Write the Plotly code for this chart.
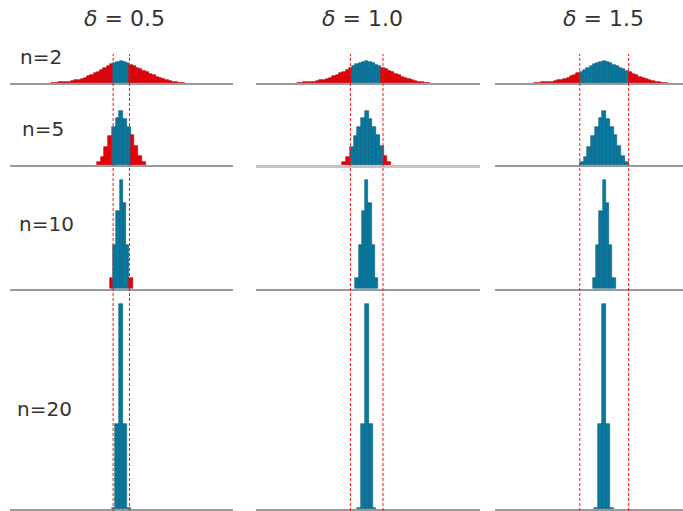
import plotly.graph_objects as go

# ---------------- data ----------------
deltas = [0.5, 1.0, 1.5]
delta_text = ["0.5", "1.0", "1.5"]
sample_sizes = [2, 5, 10, 20]

# histogram of the sample mean (deviation from the true mean), 10000 trials each
centers_n2 = [-4.2, -4.0, -3.8, -3.6, -3.4, -3.2, -3.0, -2.8, -2.6, -2.4,
              -2.2, -2.0, -1.8, -1.6, -1.4, -1.2, -1.0, -0.8, -0.6, -0.4,
              -0.2, 0.0, 0.2, 0.4, 0.6, 0.8, 1.0, 1.2, 1.4, 1.6,
              1.8, 2.0, 2.2, 2.4, 2.6, 2.8, 3.0, 3.2, 3.4, 3.6, 3.8]
counts_n2 = [6, 11, 17, 23, 29, 40, 54, 71, 91, 114,
             143, 200, 239, 279, 322, 371, 428, 479, 527, 570,
             604, 618, 599, 559, 513, 473, 436, 399, 351, 308,
             257, 214, 177, 140, 108, 86, 63, 40, 26, 14, 6]

centers_n5 = [-1.38, -1.15, -0.92, -0.69, -0.46, -0.23, 0.0,
              0.23, 0.46, 0.69, 0.92, 1.15, 1.38]
counts_n5 = [88, 234, 526, 848, 1111, 1374, 1579, 1345, 1111, 877, 556, 263, 88]

centers_n10 = [-0.6, -0.4, -0.2, 0.0, 0.2, 0.4, 0.6]
counts_n10 = [266, 1144, 2048, 2872, 2261, 1144, 266]

centers_n20 = [-0.48, -0.24, 0.0, 0.24, 0.48]
counts_n20 = [27, 2255, 5438, 2255, 27]

bin_widths = [0.2, 0.23, 0.2, 0.24]

hists = [(centers_n2, counts_n2), (centers_n5, counts_n5),
         (centers_n10, counts_n10), (centers_n20, counts_n20)]

# ---------------- geometry (pixels) ----------------
W, H = 683, 511
PX_PER_UNIT = 16.3
# (left, right, centre of the mean) for each delta column
col_px = [(10, 233, 121.3), (256, 480, 366.7), (495, 683, 604.2)]
# (top, baseline) for each sample-size row
row_px = [(40, 83), (88, 165), (170, 288.5), (292, 509)]
row_ymax = [1216, 2252, 3149, 5756]

BLUE, BLUE_EDGE = "#0779a0", "#0b5c7a"
RED, RED_EDGE = "#e80008", "#b00006"
TEXT = "#333333"
FONT = "DejaVu Sans"


def px_x(p):
    return p / W


def px_y(p):
    return 1 - p / H


fig = go.Figure()
layout = dict(
    width=W, height=H,
    margin=dict(l=0, r=0, t=0, b=0),
    paper_bgcolor="white", plot_bgcolor="white",
    showlegend=False, bargap=0,
)

for r, (centers, counts) in enumerate(hists):
    top, base = row_px[r]
    for c, d in enumerate(deltas):
        idx = r * 3 + c + 1
        left, right, mid = col_px[c]
        inside = [abs(x) < d for x in centers]
        fig.add_trace(go.Bar(
            x=centers, y=counts, width=bin_widths[r],
            marker=dict(
                color=[BLUE if k else RED for k in inside],
                line=dict(color=[BLUE_EDGE if k else RED_EDGE for k in inside],
                          width=0.6),
            ),
            xaxis=f"x{idx}", yaxis=f"y{idx}", hoverinfo="skip",
        ))
        thick = (r == 1 and c == 1)
        layout[f"xaxis{idx}"] = dict(
            domain=[px_x(left), px_x(right)],
            range=[(left - mid) / PX_PER_UNIT, (right - mid) / PX_PER_UNIT],
            anchor=f"y{idx}",
            showline=True,
            linecolor="#c4c4c4" if thick else "#9a9a9a",
            linewidth=2.5 if thick else 1.5,
            showticklabels=False, ticks="", showgrid=False, zeroline=False,
            fixedrange=True,
        )
        layout[f"yaxis{idx}"] = dict(
            domain=[px_y(base), px_y(top)],
            range=[0, row_ymax[r]],
            anchor=f"x{idx}",
            showline=False, showticklabels=False, ticks="",
            showgrid=False, zeroline=False, fixedrange=True,
        )

# dashed guide lines at mean +/- delta, running through all rows
shapes = []
for c, d in enumerate(deltas):
    for s in (-d, d):
        shapes.append(dict(
            type="line", xref=f"x{c + 1}", yref="paper",
            x0=s, x1=s, y0=0, y1=px_y(54),
            line=dict(color="#ff1010", width=1, dash="3px,2px"),
            layer="above",
        ))
layout["shapes"] = shapes

annotations = []
title_px = [(124, 18), (362, 18), (603, 18)]
for (x, y), t in zip(title_px, delta_text):
    annotations.append(dict(
        x=px_x(x), y=px_y(y), xref="paper", yref="paper",
        text=f"<i>δ</i> = {t}", showarrow=False,
        xanchor="center", yanchor="middle",
        font=dict(family=FONT, size=22, color=TEXT),
    ))
label_px = [(18, 57), (20, 129), (17, 224), (15, 409)]
for (x, y), n in zip(label_px, sample_sizes):
    annotations.append(dict(
        x=px_x(x), y=px_y(y), xref="paper", yref="paper",
        text=f"n={n}", showarrow=False,
        xanchor="left", yanchor="middle",
        font=dict(family=FONT, size=20, color=TEXT),
    ))
layout["annotations"] = annotations

fig.update_layout(**layout)
fig.write_html("out.html")
